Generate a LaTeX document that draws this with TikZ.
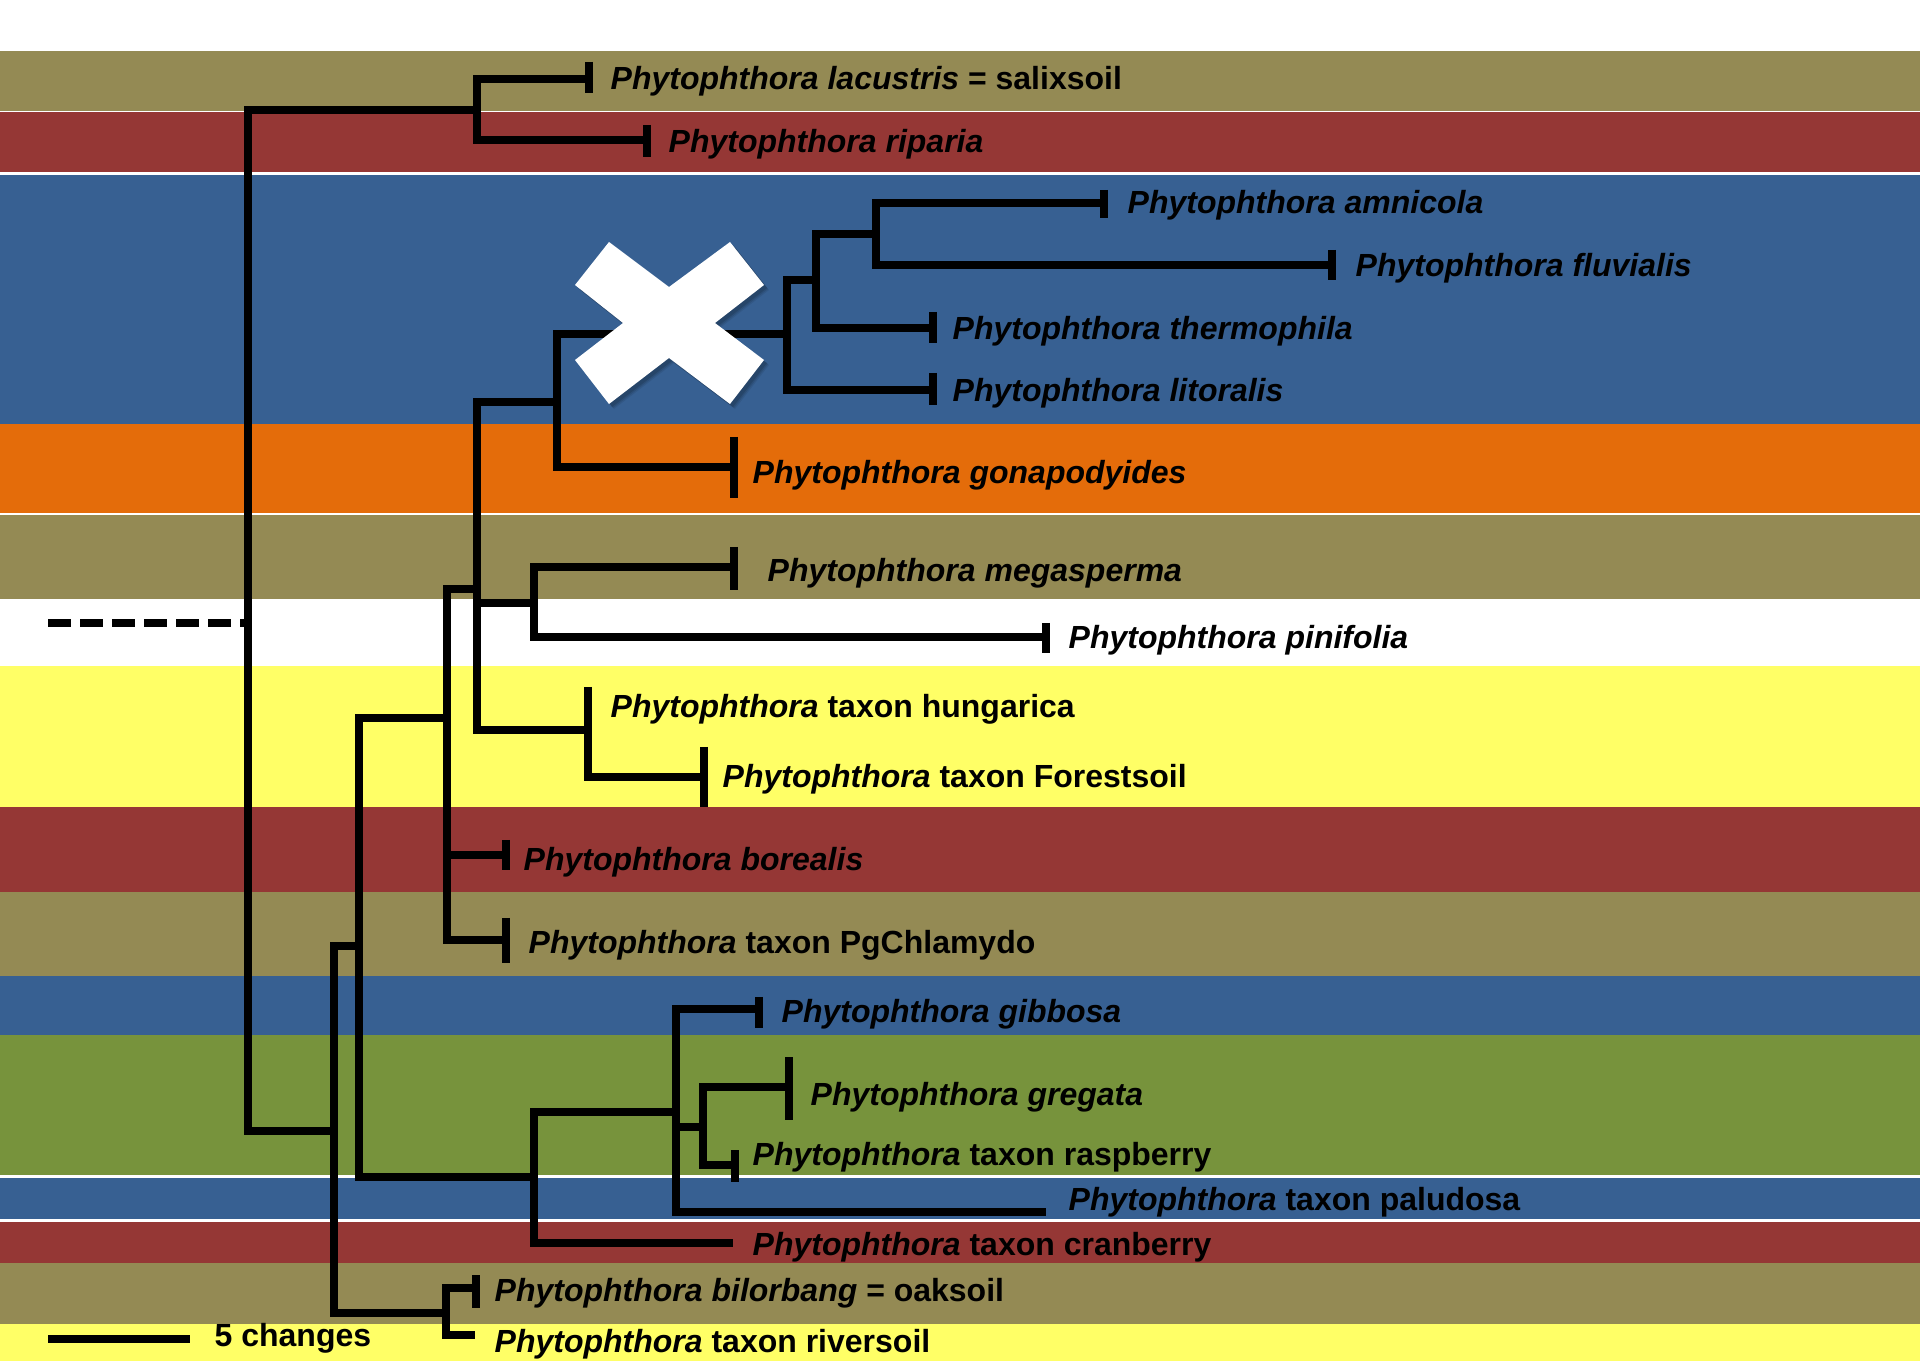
\documentclass[tikz,border=0pt]{standalone}
\usepackage{fontspec}
\setmainfont{Liberation Sans}
\definecolor{cOlive}{HTML}{948A54}
\definecolor{cRed}{HTML}{953735}
\definecolor{cBlue}{HTML}{376092}
\definecolor{cOrange}{HTML}{E46C0A}
\definecolor{cYellow}{HTML}{FFFF66}
\definecolor{cGreen}{HTML}{77933C}
\begin{document}
\begin{tikzpicture}[x=0.01cm,y=-0.01cm,
  br/.style={line width=2pt,black,line join=miter},
  tbar/.style={line width=2pt,black},
  lbl/.style={anchor=base west,inner sep=0pt,font=\fontsize{9.1pt}{11pt}\selectfont\bfseries}]
\useasboundingbox (0,0) rectangle (1920,1361);
\fill[white] (0,0) rectangle (1920,1361);
% bands
\fill[cOlive]  (0,51)   rectangle (1920,111);
\fill[cRed]    (0,112)  rectangle (1920,172);
\fill[cBlue]   (0,175)  rectangle (1920,424);
\fill[cOrange] (0,424)  rectangle (1920,513);
\fill[cOlive]  (0,515)  rectangle (1920,599);
\fill[cYellow] (0,666)  rectangle (1920,807);
\fill[cRed]    (0,807)  rectangle (1920,892);
\fill[cOlive]  (0,892)  rectangle (1920,976);
\fill[cBlue]   (0,976)  rectangle (1920,1035);
\fill[cGreen]  (0,1035) rectangle (1920,1175);
\fill[cBlue]   (0,1178) rectangle (1920,1219);
\fill[cRed]    (0,1222) rectangle (1920,1263);
\fill[cOlive]  (0,1263) rectangle (1920,1324);
\fill[cYellow] (0,1324) rectangle (1920,1361);

% leaf tips
\coordinate (lac) at (589,79);
\coordinate (rip) at (647,140);
\coordinate (amn) at (1104,203);
\coordinate (flu) at (1332,265);
\coordinate (the) at (933,328);
\coordinate (lit) at (933,390);
\coordinate (gon) at (734,467);
\coordinate (meg) at (734,567);
\coordinate (pin) at (1046,637);
\coordinate (hun) at (588,687);
\coordinate (for) at (704,777);
\coordinate (bor) at (506,855);
\coordinate (pgc) at (506,940);
\coordinate (gib) at (759,1009);
\coordinate (gre) at (789,1087);
\coordinate (ras) at (735,1165);
\coordinate (pal) at (1046,1212);
\coordinate (cra) at (733,1243);
\coordinate (bil) at (476,1288);
\coordinate (riv) at (475,1335);
% internal nodes
\coordinate (nR) at (248,600);
\coordinate (nA) at (477,110);
\coordinate (nB) at (334,1131);
\coordinate (nC) at (359,946);
\coordinate (nD) at (447,718);
\coordinate (nE) at (477,589);
\coordinate (nF) at (557,402);
\coordinate (nG) at (787,334);
\coordinate (nH) at (816,280);
\coordinate (nI) at (876,234);
\coordinate (nJ) at (534,603);
\coordinate (nK) at (588,730);
\coordinate (nL) at (534,1177);
\coordinate (nM) at (676,1112);
\coordinate (nN) at (703,1127);
\coordinate (nO) at (446,1313);

% tree
\draw[br] (amn) -| (nI) |- (flu);
\draw[br] (nI) -| (nH) |- (the);
\draw[br] (nH) -| (nG) |- (lit);
\draw[br] (nG) -| (nF) |- (gon);
\draw[br] (meg) -| (nJ) |- (pin);
\draw[br] (hun) |- (for);
\draw[br] (nF) -| (nE) |- (nJ);
\draw[br] (nE) |- (nK);
\draw[br] (nE) -| (nD) |- (pgc);
\draw[br] (nD |- bor) -- (bor);
\draw[br] (nD) -| (nC) |- (nL);
\draw[br] (gre) -| (nN) |- (ras);
\draw[br] (gib) -| (nM) |- (pal);
\draw[br] (nM |- nN) -- (nN);
\draw[br] (nM) -| (nL) |- (cra);
\draw[br] (bil) -| (nO) |- (riv);
\draw[br] (nC) -| (nB) |- (nO);
\draw[br] (lac) -| (nA) |- (rip);
\draw[br] (nA) -| (nR) |- (nB);

% terminal bars
\draw[tbar] (lac) ++(0,-17) -- ++(0,31);
\draw[tbar] (rip) ++(0,-15) -- ++(0,32);
\draw[tbar] (amn) ++(0,-13) -- ++(0,28);
\draw[tbar] (flu) ++(0,-15) -- ++(0,30);
\draw[tbar] (the) ++(0,-16) -- ++(0,31);
\draw[tbar] (lit) ++(0,-17) -- ++(0,32);
\draw[tbar] (gon) ++(0,-30) -- ++(0,61);
\draw[tbar] (meg) ++(0,-20) -- ++(0,43);
\draw[tbar] (pin) ++(0,-14) -- ++(0,30);
\draw[tbar] (for) ++(0,-30) -- ++(0,60);
\draw[tbar] (bor) ++(0,-15) -- ++(0,30);
\draw[tbar] (pgc) ++(0,-22) -- ++(0,45);
\draw[tbar] (gib) ++(0,-12) -- ++(0,31);
\draw[tbar] (gre) ++(0,-30) -- ++(0,63);
\draw[tbar] (ras) ++(0,-15) -- ++(0,32);
\draw[tbar] (bil) ++(0,-13) -- ++(0,33);

% white cross with soft shadow
\foreach \o/\a in {5/0.08,4/0.1,3/0.12} {
\fill[black,opacity=\a,shift={(\o,\o)}] (609,242) -- (669,287) -- (730,242) -- (764,285) -- (715,323) -- (764,360) -- (730,404) -- (669,358) -- (609,404) -- (575,360) -- (623,323) -- (575,285) -- cycle;
}
\fill[white] (609,242) -- (669,287) -- (730,242) -- (764,285) -- (715,323) -- (764,360) -- (730,404) -- (669,358) -- (609,404) -- (575,360) -- (623,323) -- (575,285) -- cycle;

% dashed line and scale bar
\coordinate (dashL) at (48,623);
\draw[line width=2.3pt,dash pattern=on 0.23cm off 0.09cm] (dashL) -- (nR |- dashL);
\coordinate (sbL) at (48,1339);
\coordinate (sbR) at (190,1339);
\draw[line width=2.3pt] (sbL) -- (sbR);
\node[lbl] (tsb) at (214,1346) {5 changes};

% labels
\node[lbl] (tlac) at (610,90)   {\itshape Phytophthora lacustris\upshape{} = salixsoil};
\node[lbl] (trip) at (668,153)  {\itshape Phytophthora riparia};
\node[lbl] (tamn) at (1127,214) {\itshape Phytophthora amnicola};
\node[lbl] (tflu) at (1355,277) {\itshape Phytophthora fluvialis};
\node[lbl] (tthe) at (952,340)  {\itshape Phytophthora thermophila};
\node[lbl] (tlit) at (952,402)  {\itshape Phytophthora litoralis};
\node[lbl] (tgon) at (752,484)  {\itshape Phytophthora gonapodyides};
\node[lbl] (tmeg) at (767,582)  {\itshape Phytophthora megasperma};
\node[lbl] (tpin) at (1068,649) {\itshape Phytophthora pinifolia};
\node[lbl] (thun) at (610,718)  {\itshape Phytophthora\upshape{} taxon hungarica};
\node[lbl] (tfor) at (722,788)  {\itshape Phytophthora\upshape{} taxon Forestsoil};
\node[lbl] (tbor) at (523,871)  {\itshape Phytophthora borealis};
\node[lbl] (tpgc) at (528,953)  {\itshape Phytophthora\upshape{} taxon PgChlamydo};
\node[lbl] (tgib) at (781,1022) {\itshape Phytophthora gibbosa};
\node[lbl] (tgre) at (810,1105) {\itshape Phytophthora gregata};
\node[lbl] (tras) at (752,1165) {\itshape Phytophthora\upshape{} taxon raspberry};
\node[lbl] (tpal) at (1068,1210) {\itshape Phytophthora\upshape{} taxon paludosa};
\node[lbl] (tcra) at (752,1255) {\itshape Phytophthora\upshape{} taxon cranberry};
\node[lbl] (tbil) at (494,1301) {\itshape Phytophthora bilorbang\upshape{} = oaksoil};
\node[lbl] (triv) at (494,1352) {\itshape Phytophthora\upshape{} taxon riversoil};
\end{tikzpicture}
\end{document}
